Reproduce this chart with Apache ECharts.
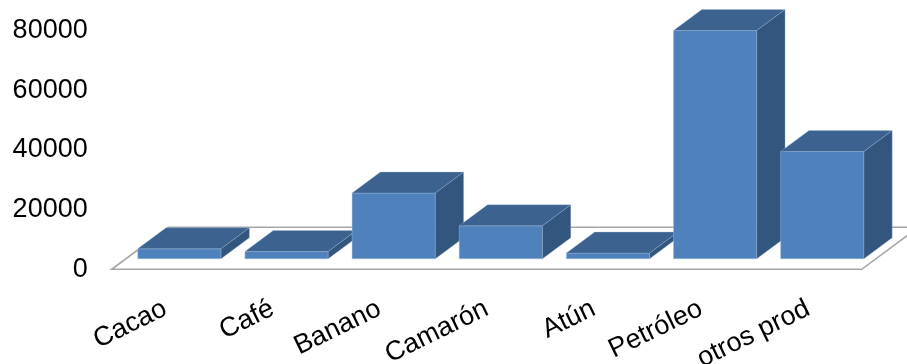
<!DOCTYPE html>
<html>
<head>
<meta charset="utf-8">
<script src="https://cdn.jsdelivr.net/npm/echarts@6/dist/echarts.min.js"></script>
<style>
  html, body { margin: 0; padding: 0; background: #fff; }
  #chart { width: 907px; height: 364px; }
</style>
</head>
<body>
<div id="chart"></div>
<script>
// Export products and their values
const categories = ['Cacao', 'Café', 'Banano', 'Camarón', 'Atún', 'Petróleo', 'otros prod'];
const values = [3350, 2450, 22000, 11050, 1900, 76400, 35900];
const yTicks = [0, 20000, 40000, 60000, 80000];

// Oblique projection of the depth axis (pixels for the full floor depth)
const DEPTH_X = 56.6;
const DEPTH_Y = -42;
const BAR_RATIO = 0.777;

const FRONT = '#4f81bd';
const TOP = '#3c6290';
const SIDE = '#33567f';
const EDGE = 'rgba(160,190,225,0.55)';
const FONT = 'Liberation Sans, Arial, sans-serif';

const chart = echarts.init(document.getElementById('chart'), null, { renderer: 'canvas' });

function renderFloor(params, api) {
  const cs = params.coordSys;
  const fy = cs.y + cs.height;
  return {
    type: 'polygon',
    shape: {
      points: [
        [cs.x, fy],
        [cs.x + cs.width, fy],
        [cs.x + cs.width + DEPTH_X, fy + DEPTH_Y],
        [cs.x + DEPTH_X, fy + DEPTH_Y]
      ]
    },
    style: { fill: '#ffffff', stroke: '#a6a6a6', lineWidth: 1.6 }
  };
}

function renderBar(params, api) {
  const idx = api.value(0);
  const val = api.value(1);
  const base = api.coord([idx, 0]);
  const top = api.coord([idx, val]);
  const w = api.size([1, 0])[0] * BAR_RATIO;
  // bar occupies the middle half of the floor depth
  const ox = DEPTH_X * 0.25, oy = DEPTH_Y * 0.25;
  const dx = DEPTH_X * 0.5, dy = DEPTH_Y * 0.5;
  const x0 = base[0] - w / 2 + ox;
  const x1 = base[0] + w / 2 + ox;
  const yb = base[1] + oy;
  const yt = top[1] + oy;
  return {
    type: 'group',
    children: [
      {
        type: 'polygon',
        shape: { points: [[x0, yb], [x1, yb], [x1, yt], [x0, yt]] },
        style: { fill: FRONT, stroke: EDGE, lineWidth: 0.8 }
      },
      {
        type: 'polygon',
        shape: { points: [[x0, yt], [x1, yt], [x1 + dx, yt + dy], [x0 + dx, yt + dy]] },
        style: { fill: TOP, stroke: EDGE, lineWidth: 0.6 }
      },
      {
        type: 'polygon',
        shape: { points: [[x1, yb], [x1 + dx, yb + dy], [x1 + dx, yt + dy], [x1, yt]] },
        style: { fill: SIDE, stroke: EDGE, lineWidth: 0.6 }
      }
    ]
  };
}

chart.setOption({
  animation: false,
  backgroundColor: '#ffffff',
  grid: {
    left: 111.7, right: 45.3, top: 30.3, bottom: 94.7,
    containLabel: false,
    outerBoundsMode: 'none'
  },
  xAxis: {
    type: 'category',
    data: categories,
    boundaryGap: true,
    axisLine: { show: false },
    axisTick: { show: false },
    axisLabel: {
      rotate: 26,
      margin: 38,
      fontSize: 27,
      color: '#000',
      fontFamily: FONT,
      interval: 0
    }
  },
  yAxis: {
    type: 'value',
    min: yTicks[0],
    max: yTicks[yTicks.length - 1],
    interval: yTicks[1] - yTicks[0],
    axisLine: { show: false },
    axisTick: { show: false },
    splitLine: { show: false },
    axisLabel: {
      margin: 24,
      fontSize: 27,
      color: '#000',
      fontFamily: FONT,
      formatter: (v) => String(v)
    }
  },
  series: [
    {
      type: 'custom',
      renderItem: renderFloor,
      data: [[0, 0]],
      silent: true,
      z: 1
    },
    {
      type: 'custom',
      renderItem: renderBar,
      data: values.map((v, i) => [i, v]),
      encode: { x: 0, y: 1 },
      clip: false,
      z: 2
    }
  ]
});
</script>
</body>
</html>
